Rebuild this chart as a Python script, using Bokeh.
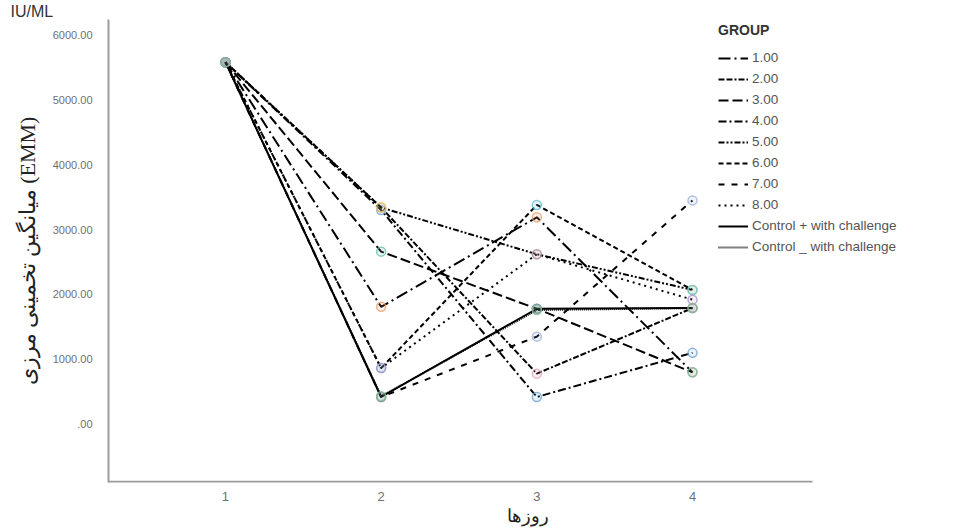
from bokeh.plotting import figure
from bokeh.models import Range1d, Legend, LegendItem, FixedTicker
from bokeh.embed import file_html
from bokeh.resources import INLINE

# ---- data ----
days = [1, 2, 3, 4]
g1 = [5580, 1810, 3190, 800]
g2 = [5580, 3340, 780, 1790]
g3 = [5580, 2660, 1780, 800]
g4 = [5580, 3300, 420, 1100]
g5 = [5580, 3340, 2620, 2070]
g6 = [5580, 865, 3380, 2070]
g7 = [5580, 420, 1350, 3450]
g8 = [5580, 865, 2620, 1920]
ctrl_pos = [5580, 420, 1780, 1790]
ctrl_neg = [5580, 430, 1760, 1790]

series_names = ["1.00", "2.00", "3.00", "4.00", "5.00", "6.00", "7.00", "8.00",
                "Control + with challenge", "Control _ with challenge"]
series_values = [g1, g2, g3, g4, g5, g6, g7, g8, ctrl_pos, ctrl_neg]

y_ticks = [0, 1000, 2000, 3000, 4000, 5000, 6000]
y_tick_labels = [".00", "1000.00", "2000.00", "3000.00", "4000.00", "5000.00", "6000.00"]
x_ticks = [1, 2, 3, 4]
x_tick_labels = ["1", "2", "3", "4"]

y_title = "میانگین تخمینی مرزی (EMM)"
x_title = "روزها"
unit_text = "IU/ML"
legend_title = "GROUP"

# ---- styles / layout ----
dashes = ["12 4 2 4", "6 2 6 2 2 2", "10 4", "8 3 2 3", "6 2 2 2 2 2",
          "5 3", "6 7", "2 4", "solid", "1 1"]
marker_colors = ["#e9a070", "#e7a3bd", "#6cbfa9", "#6fa6d6", "#e8c86a",
                 "#62c3d6", "#9fb0e0", "#ab93cc", "#8a82b4", "#86c28a"]
x_start, x_end, x_axis_end = 0.2486, 5.638, 4.771
y_start, y_end = -898, 6238
axis_grey = "#9c9c9c"

p = figure(width=951, height=528, output_backend="svg", toolbar_location=None,
           x_range=Range1d(x_start, x_end), y_range=Range1d(y_start, y_end),
           min_border_left=108, min_border_right=4, min_border_top=4,
           min_border_bottom=46)
p.outline_line_color = None
p.grid.grid_line_color = None
p.background_fill_color = "white"

# title used for the unit text at top-left
p.title.text = unit_text
p.title.align = "left"
p.title.offset = -98
p.title.standoff = 0
p.title.text_font = "Liberation Sans"
p.title.text_font_size = "16px"
p.title.text_font_style = "normal"
p.title.text_color = "#333333"

# x-axis line drawn only up to the end of the category span
p.segment(x0=[x_start], y0=[y_start], x1=[x_axis_end], y1=[y_start],
          line_color=axis_grey, line_width=3.5)

items = []
for name, vals, dash, col in zip(series_names, series_values, dashes, marker_colors):
    r = p.line(days, vals, line_color="black", line_width=2, line_dash=dash)
    p.scatter(days, vals, size=9, fill_color=col, fill_alpha=0.15,
              line_color=col, line_width=1.5, line_alpha=0.8)
    items.append(LegendItem(label=name, renderers=[r]))

# axes
for ax in (p.xaxis[0], p.yaxis[0]):
    ax.major_tick_line_color = None
    ax.minor_tick_line_color = None
    ax.major_label_text_color = "#707070"
    ax.axis_label_text_font_style = "normal"
p.xaxis.axis_line_color = None
p.yaxis.axis_line_color = axis_grey
p.yaxis.axis_line_width = 2

p.yaxis.ticker = FixedTicker(ticks=y_ticks)
p.yaxis.major_label_overrides = dict(zip(y_ticks, y_tick_labels))
p.yaxis.major_label_text_font_size = "11px"
p.yaxis.major_label_standoff = 10
p.yaxis.axis_label = y_title
p.yaxis.axis_label_text_font = "Liberation Serif"
p.yaxis.axis_label_text_font_size = "22px"
p.yaxis.axis_label_text_color = "#222222"
p.yaxis.axis_label_standoff = 10

p.xaxis.ticker = FixedTicker(ticks=x_ticks)
p.xaxis.major_label_overrides = dict(zip(x_ticks, x_tick_labels))
p.xaxis.major_label_text_font_size = "13px"
p.xaxis.major_label_standoff = 3
p.xaxis.axis_label = x_title
p.xaxis.axis_label_text_font = "Liberation Serif"
p.xaxis.axis_label_text_font_size = "18px"
p.xaxis.axis_label_text_color = "#222222"
p.xaxis.axis_label_standoff = 2

legend = Legend(items=items, location=(610, 228), title=legend_title,
                title_text_font_style="bold", title_text_font_size="14px",
                title_text_color="#333333", title_standoff=12,
                label_text_font_size="13.5px", label_text_color="#555555",
                label_standoff=4, glyph_width=30, glyph_height=14,
                label_height=14, spacing=6,
                padding=0, margin=0, background_fill_alpha=0,
                border_line_alpha=0)
p.add_layout(legend, "center")

open("out.html", "w").write(file_html(p, INLINE))
